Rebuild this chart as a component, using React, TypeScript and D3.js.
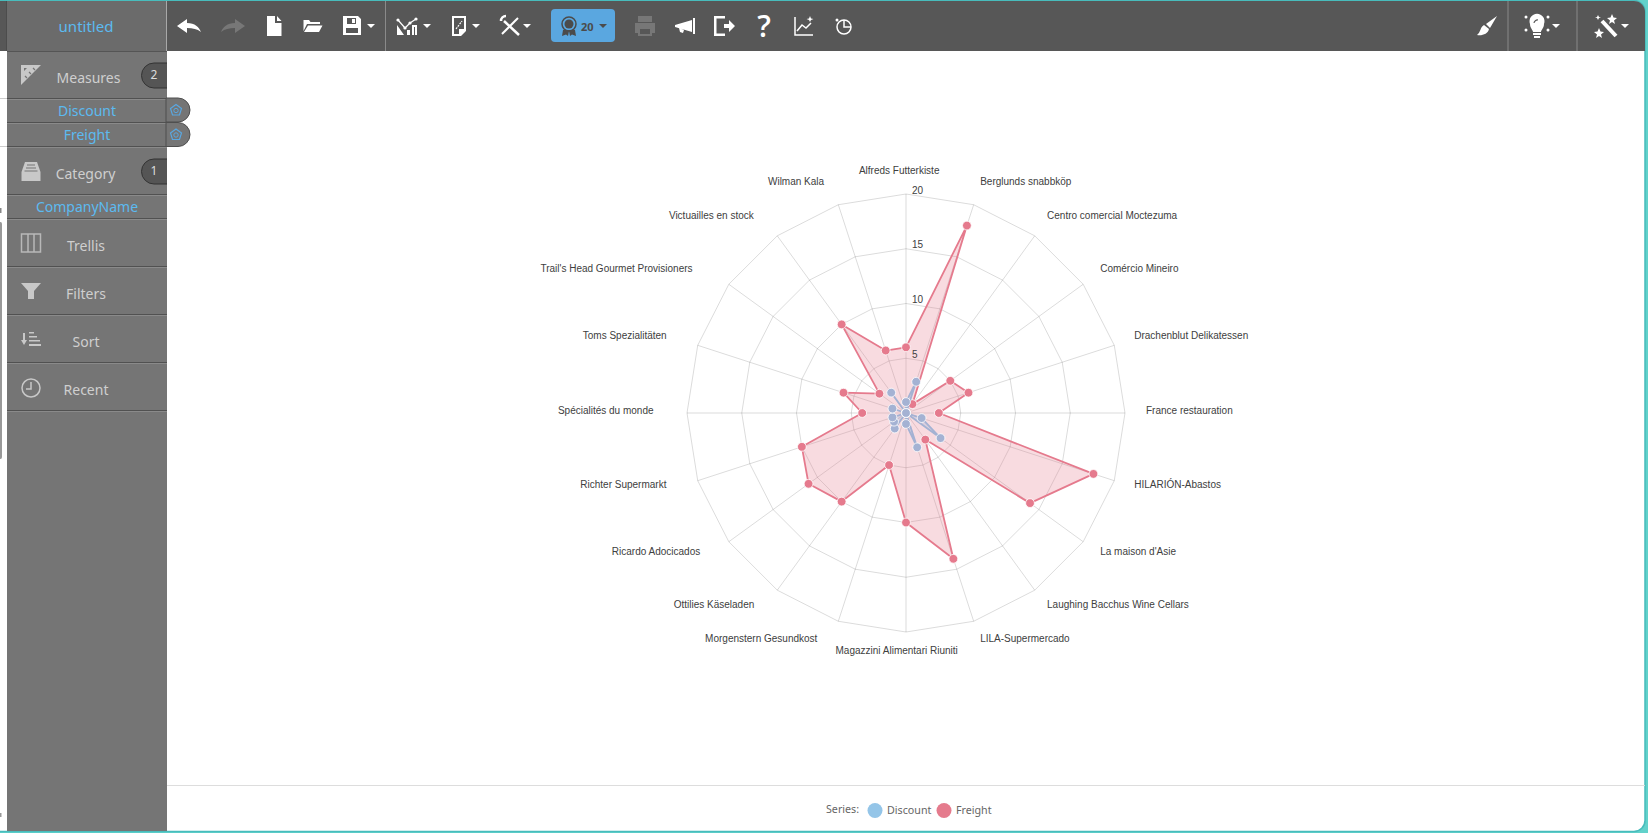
import { useEffect, useRef } from 'react';
import * as d3 from 'd3';

// radar chart inside a dashboard shell
const companies = [
  'Alfreds Futterkiste', 'Berglunds snabbköp', 'Centro comercial Moctezuma', 'Comércio Mineiro',
  'Drachenblut Delikatessen', 'France restauration', 'HILARIÓN-Abastos', "La maison d'Asie",
  'Laughing Bacchus Wine Cellars', 'LILA-Supermercado', 'Magazzini Alimentari Riuniti', 'Morgenstern Gesundkost',
  'Ottilies Käseladen', 'Ricardo Adocicados', 'Richter Supermarkt', 'Spécialités du monde',
  'Toms Spezialitäten', "Trail's Head Gourmet Provisioners", 'Victuailles en stock', 'Wilman Kala',
];
const discount = [1, 3, 0, 0, 0, 0, 1.5, 3.9, 0, 3.3, 1, 0, 1.75, 1.35, 1.3, 0, 1.3, 0, 2.3, 0];
const freight = [6, 18, 1, 5, 6, 3, 18, 14, 3, 14, 10, 5, 10, 11, 10, 4, 6, 3, 10, 6];
const radialTicks = [5, 10, 15, 20];

const menuRows = [
  { label: 'Trellis', y: 245 },
  { label: 'Filters', y: 293 },
  { label: 'Sort', y: 341 },
  { label: 'Recent', y: 389 },
];
const sidebarLines = [98, 122, 146, 194, 218, 266, 314, 362, 410];

const CX = 906;
const CY = 413;
const RADIUS = 219;
const LABEL_RADIUS = 240;
const UI_FONT = '"Noto Sans", sans-serif';
const BLUE_TEXT = '#5cbaf0';
const GRID = 'rgba(0,0,0,0.14)';
const LABEL_COLOR = '#404040';

function RadarChart() {
  const ref = useRef<SVGGElement>(null);

  useEffect(() => {
    if (!ref.current) return;
    const g = d3.select(ref.current);
    g.selectAll('*').remove();

    const n = companies.length;
    const angle = d3.scaleLinear().domain([0, n]).range([0, Math.PI * 2]);
    const r = d3.scaleLinear().domain([0, 20]).range([0, RADIUS]);
    const radial = d3.lineRadial<number>()
      .angle((_, i) => angle(i))
      .radius(d => r(d))
      .curve(d3.curveLinearClosed);
    const px = (i: number, v: number) => r(v) * Math.sin(angle(i));
    const py = (i: number, v: number) => -r(v) * Math.cos(angle(i));

    // rings
    radialTicks.forEach(t => {
      g.append('path')
        .attr('d', radial(companies.map(() => t)))
        .attr('fill', 'none')
        .attr('stroke', GRID);
    });

    // spokes
    g.selectAll('line.spoke')
      .data(companies)
      .join('line')
      .attr('class', 'spoke')
      .attr('x1', 0)
      .attr('y1', 0)
      .attr('x2', (_, i) => px(i, 20))
      .attr('y2', (_, i) => py(i, 20))
      .attr('stroke', GRID);

    const drawSeries = (values: number[], line: string, fill: string) => {
      g.append('path')
        .attr('d', radial(values))
        .attr('fill', fill)
        .attr('stroke', line)
        .attr('stroke-width', 1.8)
        .attr('stroke-linejoin', 'round');
      g.append('g')
        .selectAll('circle')
        .data(values)
        .join('circle')
        .attr('cx', (d, i) => px(i, d))
        .attr('cy', (d, i) => py(i, d))
        .attr('r', 4.4)
        .attr('fill', line)
        .attr('stroke', '#fff')
        .attr('stroke-width', 0.8);
    };
    drawSeries(freight, '#e57a8d', 'rgba(229,122,141,0.27)');
    drawSeries(discount, '#a4b2d3', 'rgba(148,178,220,0.3)');

    // tick labels
    g.selectAll('text.tick')
      .data(radialTicks)
      .join('text')
      .attr('class', 'tick')
      .attr('x', 6)
      .attr('y', d => -r(d) - 0.5)
      .attr('font-family', '"Liberation Sans", Arial, sans-serif')
      .attr('font-size', 10)
      .attr('fill', LABEL_COLOR)
      .text(d => d);

    // category labels, the box is a bit wider than the text itself
    g.selectAll('text.cat')
      .data(companies)
      .join('text')
      .attr('class', 'cat')
      .attr('font-family', '"Liberation Sans", Arial, sans-serif')
      .attr('font-size', 10)
      .attr('fill', LABEL_COLOR)
      .text(d => d)
      .each(function (_, i) {
        const w = (this as SVGTextElement).getComputedTextLength() * 1.12;
        const sinA = Math.sin(angle(i));
        const align = Math.abs(sinA) < 0.01 ? 0.5 : sinA > 0 ? 0 : 1;
        const nudge = align === 0.5 ? 2 : align === 1 ? 1 : 0;
        d3.select(this)
          .attr('x', LABEL_RADIUS * sinA - w * align - nudge)
          .attr('y', -LABEL_RADIUS * Math.cos(angle(i)) + 0.5);
      });
  }, []);

  return <g ref={ref} transform={`translate(${CX},${CY})`} />;
}

function Caret({ x, y = 26, fill = '#fff' }: { x: number; y?: number; fill?: string }) {
  return <path d={`M${x - 4},${y - 2}h8l-4,4z`} fill={fill} />;
}

function Icon({ x, y = 26, fill = '#fff', children }: { x: number; y?: number; fill?: string; children: any }) {
  return <g transform={`translate(${x},${y})`} fill={fill}>{children}</g>;
}

function Toolbar() {
  return (
    <g>
      <rect x={0} y={1} width={1645} height={50} fill="#575757" />
      <rect x={7} y={1} width={160} height={50} fill="#6b6b6b" />
      <line x1={6.5} x2={6.5} y1={1} y2={51} stroke="#4c4c4c" />
      <line x1={166.5} x2={166.5} y1={1} y2={51} stroke="#a8a8a8" />
      <text x={86} y={32} textAnchor="middle" fontFamily={UI_FONT} fontSize={15} fill={BLUE_TEXT}>untitled</text>

      {/* undo / redo */}
      <Icon x={189}><path d="M-12,0L-2,-7V-3C6,-3 10,1 12,6C8,3 4,2 -2,2V7Z" /></Icon>
      <Icon x={233} fill="#777"><path d="M12,0L2,-7V-3C-6,-3 -10,1 -12,6C-8,3 -4,2 2,2V7Z" /></Icon>
      {/* file, folder, save */}
      <Icon x={274}><path d="M-7,-10H1V-3H7.5V10H-7ZM3,-10L7.5,-5H3Z" /></Icon>
      <Icon x={313}><path d="M-9.5,-6H-4L-2.500,-4H7V-2H-6L-9.500,5ZM-5,-0.500H9.500L6,6H-9Z" /></Icon>
      <Icon x={352}><path fillRule="evenodd" d="M-9,-10H6L9,-7V9H-9ZM-5,-8V-2H4V-8ZM-6,2V7H6V2ZM0,-7H3V-3H0Z" /></Icon>
      <Caret x={371} />
      <line x1={385.5} x2={385.5} y1={1} y2={51} stroke="#8a8a8a" />

      {/* chart type */}
      <Icon x={407}>
        <path d="M-9,-6L-2,2L3,-3L9,-7" fill="none" stroke="#fff" strokeWidth={1.2} />
        <path d="M-10,9V-1L-3,9ZM0,9V4H3V9ZM5,9V-1H10V9H8V1H7V9Z" />
        <circle cx={-9} cy={-6} r={1.6} /><circle cx={-2} cy={2} r={1.6} /><circle cx={3} cy={-3} r={1.6} /><circle cx={9} cy={-7} r={1.6} />
      </Icon>
      <Caret x={427} />
      <Icon x={459}>
        <path fillRule="evenodd" d="M-7,-10H7V5L2,10H-7ZM-5,-8V8H0V3H5V-8Z" />
        <path d="M-3,3L3,-5" stroke="#fff" strokeWidth={1.2} strokeDasharray="2 1" />
      </Icon>
      <Caret x={476} />
      <Icon x={510}>
        <path d="M-6,-5L9,9" stroke="#fff" strokeWidth={2.5} />
        <path d="M8,-8L-8,8" stroke="#fff" strokeWidth={2} />
        <path d="M-4,-10A5,5,0,0,0,-9,-5" fill="none" stroke="#fff" strokeWidth={2.5} />
      </Icon>
      <Caret x={527} />

      {/* rating button */}
      <rect x={551} y={9} width={64} height={33} rx={4} fill="#5aa7e0" />
      <Icon x={569} y={24} fill="#4b4b4b">
        <circle r={7} fill="none" stroke="#4b4b4b" strokeWidth={1.500} />
        <circle r={4.500} />
        <path d="M-6,6L-7,12L-3,10.500L-1,12L0,7L1,12L3,10.500L7,12L6,6Z" />
      </Icon>
      <text x={581} y={30.500} fontFamily={UI_FONT} fontSize={11} fontWeight={700} fill="#4b4b4b">20</text>
      <Caret x={603} fill="#4b4b4b" />

      {/* printer */}
      <Icon x={645} fill="#777">
        <path fillRule="evenodd" d="M-7,-10H7V-4H-7ZM-10,-3H10V7H7V10H-7V7H-10ZM-5,3V8H5V3Z" />
      </Icon>
      <Icon x={685}>
        <path d="M-10,-1L7,-6V6L-10,1ZM-6,2L-1,4L-2,7L-5,6Z" />
        <rect x={8} y={-8} width={2} height={16} />
      </Icon>
      <Icon x={723}>
        <path d="M2,-10H-9V10H2V7.500H-6.500V-7.500H2Z" />
        <path d="M1,-2H6V-6L12,0L6,6V2H1Z" />
      </Icon>
      <text x={764} y={37} textAnchor="middle" fontFamily='"Open Sans", sans-serif' fontSize={30} fontWeight={600} fill="#fff">?</text>
      <Icon x={804}>
        <path d="M-9,-9V9H9" fill="none" stroke="#fff" strokeWidth={1.500} />
        <path d="M-7,5L-2,-1L2,2L7,-3" fill="none" stroke="#fff" strokeWidth={1.500} />
        <path d="M6,-10L7,-7.500L9.500,-7L7,-6L6,-4L5,-6L2.500,-7L5,-7.500Z" />
      </Icon>
      <Icon x={843}>
        <circle cx={1} cy={1} r={7} fill="none" stroke="#fff" strokeWidth={1.500} />
        <path d="M1,-6V1H8" fill="none" stroke="#fff" strokeWidth={1.500} />
        <circle cx={-6} cy={-6} r={1.500} />
      </Icon>

      {/* right side */}
      <Icon x={1487}>
        <path d="M10,-10L-1,-2L3,2Z" />
        <path d="M-3,-1C-7,1 -6,6 -10,9C-5,10 1,8 2,3Z" />
      </Icon>
      <line x1={1508} x2={1508} y1={1} y2={51} stroke="#8a8a8a" />
      <Icon x={1537}>
        <path d="M-7,-2A7.500,7.500,0,1,1,7,-2C7,2 4,4 4,6H-4C-4,4 -7,2 -7,-2Z" />
        <rect x={-4} y={7} width={8} height={2} /><rect x={-3} y={10} width={6} height={2} />
        <circle cx={-11} cy={-9} r={1.500} /><circle cx={11} cy={-9} r={1.500} />
        <circle cx={-11} cy={4} r={1.500} /><circle cx={11} cy={4} r={1.500} />
        <path d="M-3,-3A3.500,3.500,0,0,1,1,-6" fill="none" stroke="#575757" strokeWidth={1.200} />
      </Icon>
      <Caret x={1556} />
      <line x1={1577} x2={1577} y1={1} y2={51} stroke="#8a8a8a" />
      <Icon x={1606}>
        <path d="M-4,-5L10,10" stroke="#fff" strokeWidth={4} />
        <path d="M6,-12L7.500,-8.500L11,-8L8,-5.500L9,-2L6,-4L3,-2L4,-5.500L1,-8L4.500,-8.500Z" />
        <path d="M-7,2L-5.500,5.500L-2,6L-5,8.500L-4,12L-7,10L-10,12L-9,8.500L-12,6L-8.500,5.500Z" />
        <path d="M-8,-11L-7,-9L-5,-8.500L-7,-8L-8,-6L-9,-8L-11,-8.500L-9,-9Z" />
      </Icon>
      <Caret x={1625} />
    </g>
  );
}

function SideText({ x, y, color, size = 14, children }: { x: number; y: number; color: string; size?: number; children: string }) {
  return <text x={x} y={y} textAnchor="middle" dominantBaseline="central" fontFamily={UI_FONT} fontSize={size} fill={color}>{children}</text>;
}

function Badge({ y, label }: { y: number; label: string }) {
  return (
    <g>
      <path d={`M167,${y}H154a12.500,12.500,0,0,0,0,25H167`} fill="#555" stroke="#333" />
      <text x={154} y={y + 11.500} textAnchor="middle" dominantBaseline="central" fontFamily={UI_FONT} fontSize={12} fill="#ddd">{label}</text>
    </g>
  );
}

function MeasurePill({ y }: { y: number }) {
  return (
    <g>
      <path d={`M166,${y}H178a12,12,0,0,1,0,24H166Z`} fill="#757575" stroke="#4f4f4f" />
      <path d={`M176,${y + 6.500}l5.500,4l-2,6.500h-7l-2,-6.500z`} fill="none" stroke="#5aa7e0" strokeWidth={1.200} />
      <circle cx={176} cy={y + 12.500} r={2.200} fill="none" stroke="#5aa7e0" />
    </g>
  );
}

function Sidebar() {
  const grey = '#cfcfcf';
  return (
    <g>
      {/* little bits left of the panel */}
      <line x1={0} x2={7} y1={98.500} y2={98.500} stroke="#ccc" />
      <line x1={0} x2={7} y1={146.500} y2={146.500} stroke="#ccc" />
      <rect x={0} y={208} width={1.500} height={5} fill="#888" />
      <path d="M0,222H0.500Q2,222 2,224V457Q2,459 0.500,459H0Z" fill="#999" />
      <rect x={0} y={813} width={1.500} height={4} fill="#999" />

      <rect x={7} y={51} width={160} height={781} fill="#757575" />
      <line x1={7} x2={167} y1={51.500} y2={51.500} stroke="#555" />
      {sidebarLines.map(y => (
        <g key={y}>
          <line x1={7} x2={167} y1={y + 0.500} y2={y + 0.500} stroke="#515151" />
          <line x1={7} x2={167} y1={y + 1.500} y2={y + 1.500} stroke="#8a8a8a" />
        </g>
      ))}

      <Badge y={63} label="2" />
      <Badge y={159} label="1" />
      <MeasurePill y={98} />
      <MeasurePill y={122.500} />

      {/* panel icons */}
      <Icon x={31} y={75} fill="#c8c8c8">
        <path fillRule="evenodd" d="M-10,-10H10L-10,10ZM-7,-7V-4L-4,-7Z" />
        <path d="M-4,3L-6,1M0,-1L-2,-3M4,-5L2,-7" stroke="#757575" strokeWidth={1.2} />
      </Icon>
      <Icon x={31} y={172} fill="#c8c8c8">
        <path d="M-6,-10H6L9.500,0V9H-9.500V0Z" />
        <path d="M-4,-7H4M-5,-4H5M-6.500,-1H6.500" stroke="#757575" strokeWidth={1.2} />
      </Icon>
      <Icon x={31} y={243} fill="none">
        <rect x={-9.500} y={-9} width={19} height={18} stroke="#b8b8b8" strokeWidth={1.500} />
        <path d="M-3,-9V9M3,-9V9" stroke="#b8b8b8" strokeWidth={1.500} />
      </Icon>
      <Icon x={31} y={291} fill="#c8c8c8"><path d="M-10,-8H10L3,0V8H-3V0Z" /></Icon>
      <Icon x={31} y={339} fill="#c8c8c8">
        <path d="M-10,1H-8V-6H-6V1H-4L-7,6Z" />
        <path d="M-2,-7H3V-5.500H-2ZM-2,-3H6V-1.500H-2ZM-2,1H9V2.500H-2ZM-2,5H10V7H-2Z" />
      </Icon>
      <Icon x={31} y={388} fill="none">
        <circle r={9} stroke="#c8c8c8" strokeWidth={1.500} />
        <path d="M0,-6V1H-5" stroke="#c8c8c8" strokeWidth={1.500} />
      </Icon>

      <SideText x={88.5} y={77.500} color={grey}>Measures</SideText>
      <SideText x={87} y={110.500} color={BLUE_TEXT}>Discount</SideText>
      <SideText x={87} y={134.500} color={BLUE_TEXT}>Freight</SideText>
      <SideText x={85.5} y={173.500} color={grey}>Category</SideText>
      <SideText x={87} y={206.500} color={BLUE_TEXT}>CompanyName</SideText>
      {menuRows.map(row => (
        <SideText key={row.label} x={86} y={row.y} color={grey}>{row.label}</SideText>
      ))}
    </g>
  );
}

function Legend() {
  const text = { fontFamily: UI_FONT, fontSize: 10.7, fill: '#666' };
  return (
    <g>
      <line x1={167} x2={1645} y1={785.500} y2={785.500} stroke="#ddd" />
      <text x={826} y={813} {...text}>Series:</text>
      <circle cx={875} cy={810.500} r={7.500} fill="#94c5e8" />
      <text x={887} y={814} {...text}>Discount</text>
      <circle cx={944} cy={810.500} r={7.500} fill="#e57b8d" />
      <text x={956} y={814} {...text}>Freight</text>
    </g>
  );
}

export default function App() {
  return (
    <svg
      width={1648}
      height={833}
      style={{ position: 'absolute', left: 0, top: 0, display: 'block' }}
    >
      {/* teal frame with rounded right corners, open on the left */}
      <rect width={1648} height={833} fill="#62d2cb" />
      <path d="M0,1H1634a11,11,0,0,1,11,11V820a11,11,0,0,1,-11,11H0Z" fill="#fff" />
      <path
        d="M0,0.500H1634a11,11,0,0,1,11,11V820.500a11,11,0,0,1,-11,11H0"
        fill="none"
        stroke="#48bcbc"
        strokeWidth={1.500}
      />
      <clipPath id="frame">
        <path d="M0,1H1634a11,11,0,0,1,11,11V820a11,11,0,0,1,-11,11H0Z" />
      </clipPath>
      <g clipPath="url(#frame)">
        <Toolbar />
        <Sidebar />
        <Legend />
      </g>
      <RadarChart />
    </svg>
  );
}
